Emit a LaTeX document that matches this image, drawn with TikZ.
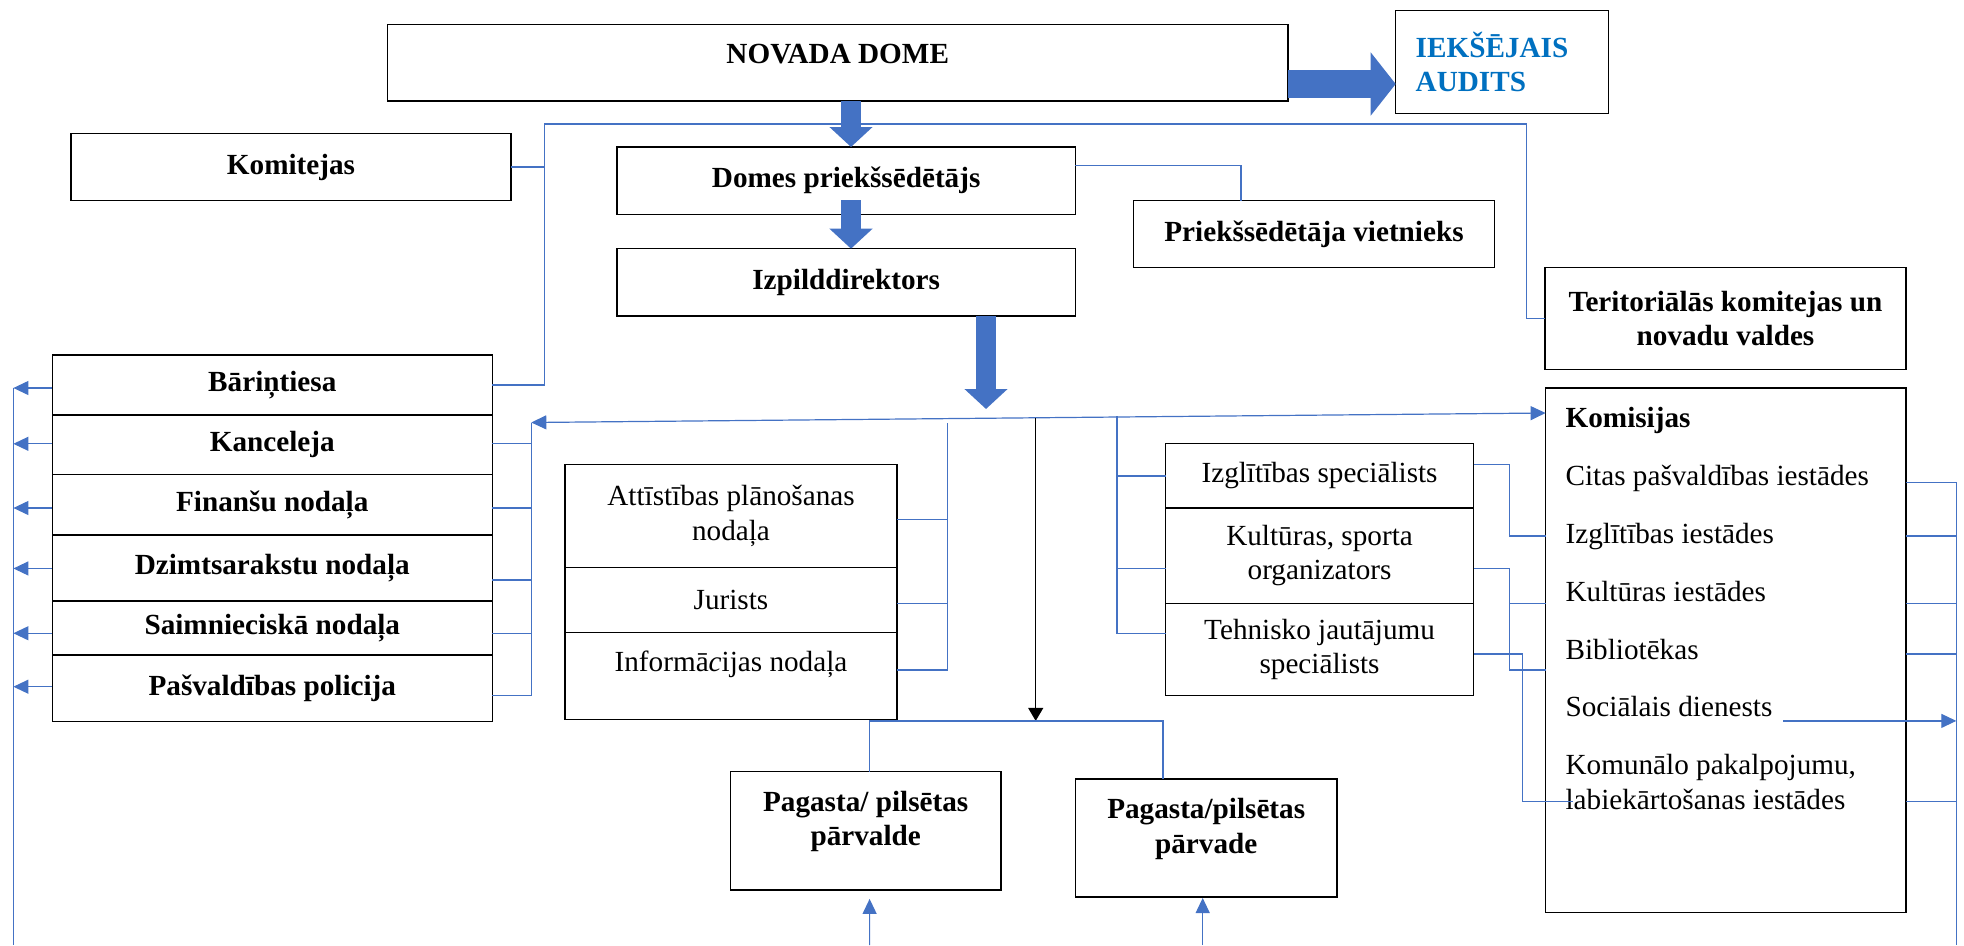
\documentclass[tikz,border=0pt]{standalone}
\usepackage{fontspec}
\setmainfont{Liberation Serif}
\usetikzlibrary{arrows.meta,positioning,calc}
\definecolor{wireblue}{HTML}{4472C4}
\definecolor{auditblue}{HTML}{0070C0}
\begin{document}
\begin{tikzpicture}[x=1pt,y=-1pt,
    every node/.style={font=\fontsize{29.2}{34.5}\selectfont},
    box/.style={draw,line width=1.3pt,outer sep=0pt,align=center},
    bbox/.style={box,font=\fontsize{29.2}{34.5}\selectfont\bfseries},
    dims/.style 2 args={minimum width=#1pt,minimum height=#2pt},
    wire/.style={draw=wireblue,line width=1.2pt},
    >={Triangle[length=15pt,width=14pt]},
    fat/.style={wireblue,line width=20pt,-{Triangle[length=20pt,width=42pt]}} ]
    \useasboundingbox (0,0) rectangle (1964,945);
    \node at (837.75,62.85) [bbox,dims={900.5}{76.3},text depth=19pt] (dome) {NOVADA DOME};
    \node at (1502.05,62) [bbox,text=auditblue,align=left,text width=172.7pt,inner xsep=20pt,minimum height=102.6pt] (audit) {IEKŠĒJAIS\\AUDITS};
    \node at (291,167) [bbox,dims={440}{67.4}] (kom) {Komitejas};
    \node at (846.2,180.65) [bbox,dims={458.4}{67.3}] (chair) {Domes priekšsēdētājs};
    \node at (846.2,282.35) [bbox,dims={458.4}{67.3}] (exec) {Izpilddirektors};
    \node at (1314,234) [bbox,dims={361}{66.6}] (deputy) {Priekšsēdētāja vietnieks};
    \node at (1725.5,318.3) [bbox,dims={361}{102}] (terr) {Teritoriālās komitejas un\\novadu valdes};
    % left column
    \node at (272.3,385) [bbox,dims={440.2}{60}] (bt) {Bāriņtiesa};
    \node [bbox,dims={440.2}{59.8},below=0pt of bt] (kanc) {Kanceleja};
    \node [bbox,dims={440.2}{60.2},below=0pt of kanc] (fin) {Finanšu nodaļa};
    \node [bbox,dims={440.2}{65.9},below=0pt of fin] (dz) {Dzimtsarakstu nodaļa};
    \node [bbox,dims={440.2}{54.1},below=0pt of dz] (saim) {Saimnieciskā nodaļa};
    \node [bbox,dims={440.2}{66.6},below=0pt of saim] (pol) {Pašvaldības policija};
    % middle
    \node at (731,516.05) [box,dims={332}{102.7}] (att) {Attīstības plānošanas\\nodaļa};
    \node [box,dims={332}{64.9},below=0pt of att] (jur) {Jurists};
    \node [box,dims={332}{87.2},below=0pt of jur,text depth=30pt] (inf) {Informā\textit{c}ijas nodaļa};
    \node at (1319.55,475.9) [box,dims={307.9}{64.2}] (izgl) {Izglītības speciālists};
    \node [box,dims={307.9}{95.4},below=0pt of izgl] (kult) {Kultūras, sporta\\organizators};
    \node [box,dims={307.9}{92.3},below=0pt of kult] (teh) {Tehnisko jautājumu\\speciālists};
    \node at (865.7,830.8) [bbox,dims={270.6}{118.2},text depth=24.5pt] (pag1) {Pagasta/ pilsētas\\pārvalde};
    \node at (1206.2,838) [bbox,dims={261.6}{118},text depth=24.5pt] (pag2) {Pagasta/pilsētas\\pārvade};
    % komisijas
    \node at (1725.8,650.3) [box,dims={360.4}{524.6}] (komis) {};
    \node [anchor=north west,align=left,inner sep=0pt] at ([xshift=19.8pt,yshift=-19.5pt]komis.north west) (komlist)
      {\textbf{Komisijas}\\[23.3pt]Citas pašvaldības iestādes\\[23.3pt]Izglītības iestādes\\[23.3pt]Kultūras iestādes\\[23.3pt]Bibliotēkas\\[23.3pt]Sociālais dienests\\[23.3pt]Komunālo pakalpojumu,\\labiekārtošanas iestādes};

    \coordinate (railw) at (544.6,124);
    \coordinate (raile) at (1526.4,124);
    \coordinate (spine) at (851,0);
    \coordinate (drop) at (986,409);
    \coordinate (busw) at (531.3,422.5);
    \coordinate (lrail) at (13.4,945);
    \coordinate (midrail) at (947.8,423);
    \coordinate (rrail) at (1117,416);
    \coordinate (split) at (1035.7,720.9);
    \coordinate (up1) at (869.6,945);
    \coordinate (up2) at (1202.7,945);
    \coordinate (kjog) at (1509.3,603.4);
    \coordinate (komin) at (1573,801.6);
    \coordinate (farrail) at (1956.3,945);
    \coordinate (soc) at (1783.4,720.9);

    \draw[wire] (bt.east) -| (railw) -- (raile) |- (terr.west);
    \draw[wire] (kom.east) -- (kom.east -| railw);
    \draw[wire] ([yshift=15pt]chair.east) -| ([xshift=-73pt]deputy.north);

    \draw[fat] (dome.south -| spine) -- (chair.north -| spine);
    \draw[fat] ($(chair.south -| spine)+(0,-14)$) -- (exec.north -| spine);
    \draw[fat] (exec.south -| drop) -- (drop);
    \draw[fat,line width=28pt,-{Triangle[length=25pt,width=62pt]}] (dome.east |- 0,84) -- (audit.west |- 0,84);

    \draw[wire,<->] (busw) -- (komis.west |- 0,413);
    \draw[wire] (busw) |- ([yshift=-7.4pt]pol.east);
    \foreach \n/\s in {kanc/1.1,fin/-3.1,dz/-12,saim/-5.3}
      \draw[wire] ([yshift=\s pt]\n.east) -- ++(38.9,0);
    \draw[wire] (lrail |- 0,388) -- (lrail);
    \foreach \n/\s in {bt/-3,kanc/1.1,fin/-3.1,dz/-0.5,saim/-5.3,pol/1.6}
      \draw[wire,->] ([yshift=\s pt]\n.west) -- ++(-38.8,0);

    \draw[wire] (midrail) |- ([yshift=5.9pt]inf.east);
    \draw[wire] ([yshift=-3.8pt]att.east) -- ++(50.8,0);
    \draw[wire] ([yshift=-3.6pt]jur.east) -- ++(50.8,0);

    \draw[wire] (rrail) |- ([yshift=16.2pt]teh.west);
    \draw[wire] (izgl.west) -- ++(-48.6,0);
    \draw[wire] ([yshift=-12.8pt]kult.west) -- ++(-48.6,0);

    \draw[line width=1.2pt,-{Triangle[length=13pt,width=15pt]}] (split |- 0,418) -- (split);
    \draw[wire] ([xshift=3.9pt]pag1.north) |- (split) -| ([xshift=-43.2pt]pag2.north);
    \draw[wire,->] (up1) -- ([xshift=3.9pt,yshift=-9pt]pag1.south);
    \draw[wire,->] (up2) -- ([xshift=-3.5pt,yshift=-1pt]pag2.south);

    \draw[wire] ([yshift=11.2pt]izgl.east) -- ++(35.8,0) |- (komis.west |- 0,536);
    \draw[wire] ([yshift=-12.8pt]kult.east) -- ++(35.8,0) |- (komis.west |- 0,670);
    \draw[wire] (kjog) -- (komis.west |- kjog);
    \draw[wire] ([yshift=-4.4pt]teh.east) -- ++(49.3,0) |- (komin);

    \draw[wire] (komis.east |- 0,482.7) -| (farrail);
    \foreach \y in {536,603.4,653.9,801.6}
      \draw[wire] (komis.east |- 0,\y) -- (farrail |- 0,\y);
    \draw[wire,->] (soc) -- (farrail |- soc);
\end{tikzpicture}
\end{document}
